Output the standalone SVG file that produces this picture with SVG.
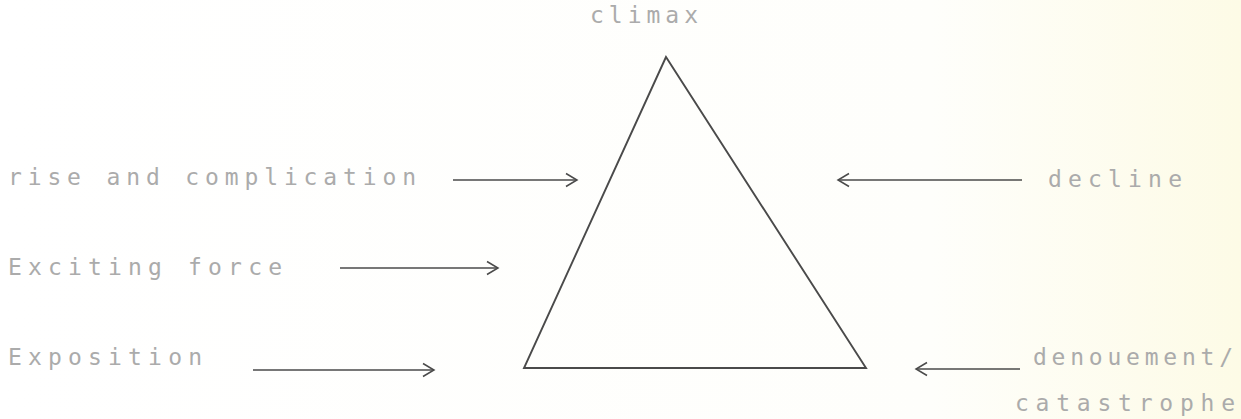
<svg xmlns="http://www.w3.org/2000/svg" width="1241" height="419" viewBox="0 0 1241 419">
<defs>
<linearGradient id="bg" x1="0" y1="0" x2="1" y2="0">
<stop offset="0" stop-color="#ffffff"/>
<stop offset="0.75" stop-color="#fefefb"/>
<stop offset="1" stop-color="#fdfbe6"/>
</linearGradient>
<marker id="ah" markerWidth="16" markerHeight="16" refX="14" refY="8" orient="auto" markerUnits="userSpaceOnUse">
<polyline points="3,1.5 14,8 3,14.5" fill="none" stroke="#4a4a4a" stroke-width="1.5"/>
</marker>
</defs>
<style>
.t{font-family:"DejaVu Sans Mono","Liberation Mono",monospace;font-size:23px;fill:#ababab;}
.c{stroke:#4a4a4a;stroke-width:1.6;fill:none;marker-end:url(#ah);}
.tri{stroke:#4a4a4a;stroke-width:1.9;fill:none;stroke-linejoin:miter;}
</style>
<rect width="1241" height="419" fill="url(#bg)"/>
<g id="triangle"><polygon class="tri" points="666,57 524,368 866,368"/></g>
<g id="climax"><text class="t" x="590" y="23" textLength="108" lengthAdjust="spacing">climax</text></g>
<g id="rise"><text class="t" x="8" y="185" textLength="408" lengthAdjust="spacing">rise and complication</text></g>
<g id="exciting"><text class="t" x="8" y="275" textLength="274" lengthAdjust="spacing">Exciting force</text></g>
<g id="exposition"><text class="t" x="8" y="365" textLength="194" lengthAdjust="spacing">Exposition</text></g>
<g id="decline"><text class="t" x="1048" y="187" textLength="134" lengthAdjust="spacing">decline</text></g>
<g id="denouement"><text class="t" x="1033" y="365" textLength="200" lengthAdjust="spacing">denouement/</text></g>
<g id="catastrophe"><text class="t" x="1015" y="411" textLength="220" lengthAdjust="spacing">catastrophe</text></g>
<g id="connectors">
<line class="c" x1="453" y1="180" x2="577" y2="180"/>
<line class="c" x1="340" y1="268" x2="498" y2="268"/>
<line class="c" x1="253" y1="370" x2="434" y2="370"/>
<line class="c" x1="1022" y1="180" x2="838" y2="180"/>
<line class="c" x1="1020" y1="369" x2="916" y2="369"/>
</g>
</svg>
